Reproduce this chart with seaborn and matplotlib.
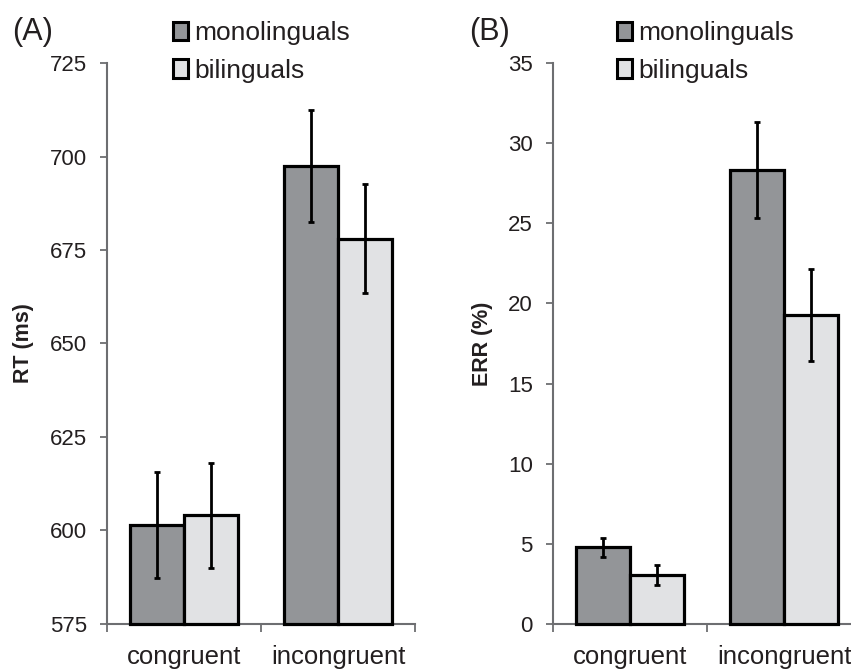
import matplotlib
matplotlib.use("Agg")
import matplotlib.pyplot as plt
from matplotlib.patches import Patch
import seaborn as sns
import pandas as pd

sns.set_style("white")
plt.rcParams['font.family'] = ['Liberation Sans', 'DejaVu Sans']

# data
conditions = ['congruent', 'incongruent']
groups = ['monolinguals', 'bilinguals']
rt_mono = [601.5, 697.5]
rt_bili = [604.0, 678.0]
rt_err_mono = [14.2, 15.0]
rt_err_bili = [14.0, 14.6]
err_mono = [4.77, 28.35]
err_bili = [3.05, 19.3]
err_err_mono = [0.61, 3.0]
err_err_bili = [0.63, 2.87]

colors = {'monolinguals': '#939598', 'bilinguals': '#e1e2e4'}
axis_grey = '#6d6e71'
text_col = '#231f20'


def make_df(mono, bili):
    return pd.DataFrame({
        'condition': conditions * 2,
        'group': [groups[0]] * 2 + [groups[1]] * 2,
        'value': list(mono) + list(bili),
    })


def draw_panel(ax, df, errs, ylim, yticks, ylabel, letter, leg_xy):
    sns.barplot(data=df, x='condition', y='value', hue='group', hue_order=groups,
                palette=colors, width=0.7, errorbar=None, edgecolor='black',
                linewidth=2.3, saturation=1, legend=False, ax=ax)
    # error bars at bar centres
    for cont, e in zip(ax.containers, errs):
        xs = [p.get_x() + p.get_width() / 2 for p in cont]
        hs = [p.get_y() + p.get_height() for p in cont]
        ax.errorbar(xs, hs, yerr=e, fmt='none', ecolor='black', elinewidth=2,
                    capsize=2.5, capthick=2, zorder=5)
    # bars start at the axis floor so their bottom edge shows
    for p in ax.patches:
        top = p.get_y() + p.get_height()
        p.set_y(ylim[0])
        p.set_height(top - ylim[0])
        p.set_clip_on(False)
        p.set_zorder(3)
    ax.set_ylim(*ylim)
    ax.set_xlim(-0.5, 1.5)
    ax.set_yticks(yticks)
    ax.set_xticks([0, 1])
    ax.set_xticks([-0.5, 0.5, 1.5], minor=True)
    ax.tick_params(axis='x', which='major', length=0, labelsize=18.5, pad=15,
                   labelcolor=text_col)
    ax.tick_params(axis='x', which='minor', length=6, width=1.3, color=axis_grey,
                   direction='out', bottom=True)
    ax.tick_params(axis='y', length=5, width=1.3, color=axis_grey, direction='out',
                   labelsize=16, labelcolor=text_col, pad=9.5, left=True)
    ax.set_xlabel('')
    ax.set_ylabel(ylabel, fontsize=15.5, fontweight='bold', color=text_col, labelpad=11)
    for s in ['top', 'right']:
        ax.spines[s].set_visible(False)
    for s in ['left', 'bottom']:
        ax.spines[s].set_color(axis_grey)
        ax.spines[s].set_linewidth(1.5)
    fig = ax.figure
    fig.text(letter[0], letter[1], letter[2], fontsize=22, color=text_col,
             ha='left', va='top')
    handles = [Patch(facecolor=colors[g], edgecolor='black', linewidth=2.2, label=g)
               for g in groups]
    fig.legend(handles=handles, loc='upper left', bbox_to_anchor=leg_xy,
               frameon=False, fontsize=19, handlelength=0.55, handleheight=0.7,
               handletextpad=0.25, labelspacing=0.5, borderaxespad=0,
               borderpad=0, labelcolor=text_col)


fig = plt.figure(figsize=(8.51, 6.69), dpi=100)
ax_a = fig.add_axes([0.1257, 0.0677, 0.362, 0.8377])
ax_b = fig.add_axes([0.6498, 0.0677, 0.362, 0.8377])

draw_panel(ax_a, make_df(rt_mono, rt_bili), [rt_err_mono, rt_err_bili],
           (575, 725), range(575, 726, 25), 'RT (ms)', (0.014, 0.975, '(A)'),
           (0.2035, 0.968))
draw_panel(ax_b, make_df(err_mono, err_bili), [err_err_mono, err_err_bili],
           (0, 35), range(0, 36, 5), 'ERR (%)', (0.551, 0.975, '(B)'),
           (0.7255, 0.968))

fig.savefig('out.png', dpi=100)
